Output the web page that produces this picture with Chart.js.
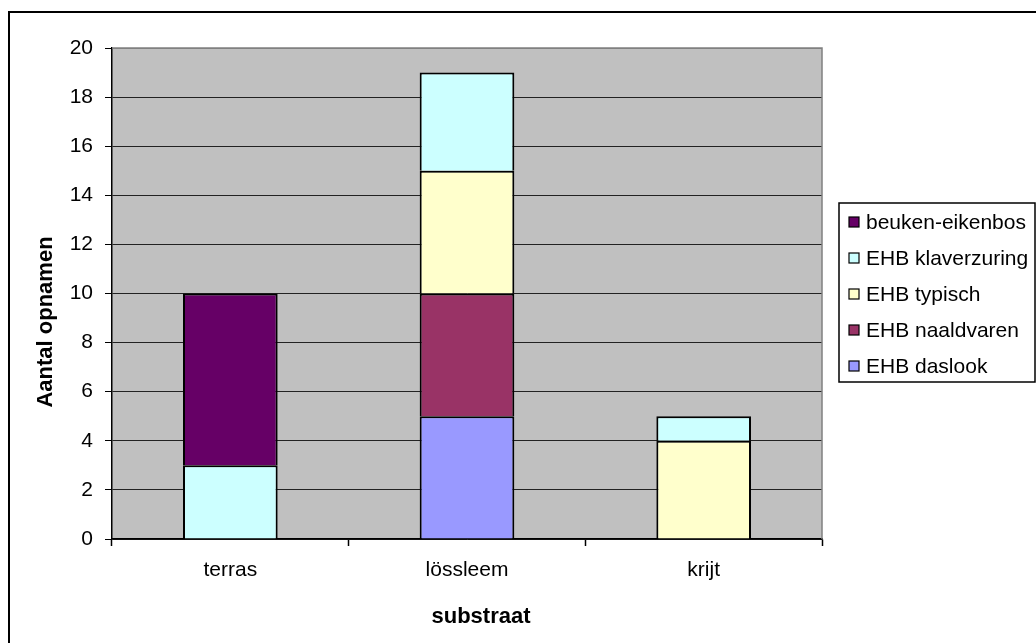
<!DOCTYPE html>
<html>
<head>
<meta charset="utf-8">
<script src="https://cdn.jsdelivr.net/npm/chart.js@4/dist/chart.umd.min.js"></script>
<style>
  html, body { margin: 0; padding: 0; background: #fff; }
  #wrap { width: 1036px; height: 643px; position: relative; }
</style>
</head>
<body>
<div id="wrap"><canvas id="c" width="1036" height="643"></canvas></div>
<script>
// Aantal opnamen per substraat en vegetatietype
const categories = ['terras', 'lössleem', 'krijt'];
const daslook      = [null, 5, null];
const naaldvaren   = [null, 5, null];
const typisch      = [null, 5, 4];
const klaverzuring = [3, 4, 1];
const beuken       = [7, null, null];

const seriesNames  = ['EHB daslook', 'EHB naaldvaren', 'EHB typisch', 'EHB klaverzuring', 'beuken-eikenbos'];
const seriesValues = [daslook, naaldvaren, typisch, klaverzuring, beuken];
const seriesColors = ['#9999FF', '#993366', '#FFFFCC', '#CCFFFF', '#660066'];

const yTitle = 'Aantal opnamen';
const xTitle = 'substraat';

const FONT = '"Liberation Sans", Arial, sans-serif';

const decorations = {
  id: 'decorations',
  beforeDraw(chart) {
    const { ctx, chartArea: a } = chart;
    ctx.save();
    // outer frame
    ctx.strokeStyle = '#000';
    ctx.lineWidth = 2;
    ctx.strokeRect(9, 12, 1100, 700);
    // plot background
    ctx.fillStyle = '#C0C0C0';
    ctx.fillRect(a.left, a.top, a.right - a.left, a.bottom - a.top);
    ctx.restore();
  },
  afterDraw(chart) {
    const { ctx, chartArea: a } = chart;
    ctx.save();
    // plot frame top / right
    ctx.strokeStyle = '#808080';
    ctx.lineWidth = 1.5;
    ctx.beginPath();
    ctx.moveTo(a.left, a.top);
    ctx.lineTo(a.right, a.top);
    ctx.lineTo(a.right, a.bottom);
    ctx.stroke();

    // axis titles
    ctx.fillStyle = '#000';
    ctx.font = 'bold 22px ' + FONT;
    ctx.textAlign = 'center';
    ctx.textBaseline = 'middle';
    ctx.fillText(xTitle, 481, 617);
    ctx.save();
    ctx.translate(46, 322);
    ctx.rotate(-Math.PI / 2);
    ctx.fillText(yTitle, 0, 0);
    ctx.restore();

    // legend
    const lx = 839, ly = 203, lw = 196, lh = 179;
    ctx.fillStyle = '#fff';
    ctx.fillRect(lx, ly, lw, lh);
    ctx.strokeStyle = '#000';
    ctx.lineWidth = 1.5;
    ctx.strokeRect(lx, ly, lw, lh);
    ctx.font = '21px ' + FONT;
    ctx.textAlign = 'left';
    ctx.textBaseline = 'middle';
    const ds = chart.data.datasets;
    for (let i = 0; i < ds.length; i++) {
      const d = ds[ds.length - 1 - i];
      const cy = 222 + i * 36;
      ctx.fillStyle = d.backgroundColor;
      ctx.fillRect(849, cy - 5, 10, 10);
      ctx.strokeStyle = '#000';
      ctx.lineWidth = 1.2;
      ctx.strokeRect(849, cy - 5, 10, 10);
      ctx.fillStyle = '#000';
      ctx.fillText(d.label, 866, cy + 1);
    }
    ctx.restore();
  }
};

new Chart(document.getElementById('c'), {
  type: 'bar',
  data: {
    labels: categories,
    datasets: seriesNames.map((name, i) => ({
      label: name,
      data: seriesValues[i],
      backgroundColor: seriesColors[i],
      borderColor: '#000',
      borderWidth: 2,
      barPercentage: 0.4,
      categoryPercentage: 1.0
    }))
  },
  options: {
    responsive: false,
    animation: false,
    devicePixelRatio: 1,
    layout: { padding: { top: 48, right: 214, bottom: 0, left: 0 } },
    plugins: { legend: { display: false }, tooltip: { enabled: false } },
    scales: {
      x: {
        stacked: true,
        afterFit(scale) { scale.height = 104; },
        grid: {
          offset: true,
          drawOnChartArea: false,
          drawTicks: true,
          tickLength: 7,
          tickColor: (c) => c.index === 3 ? '#808080' : '#000',
          tickWidth: 1.5
        },
        border: { color: '#000', width: 1.5 },
        ticks: { color: '#000', font: { family: FONT, size: 21 }, padding: 12 }
      },
      y: {
        stacked: true,
        min: 0,
        max: 20,
        afterFit(scale) { scale.width = 112; },
        grid: {
          color: (c) => (c.tick && c.tick.value === 20) ? '#808080' : '#222',
          lineWidth: 1,
          tickLength: 7,
          tickColor: '#000',
          tickWidth: 1
        },
        border: { color: '#000', width: 1.5 },
        ticks: { stepSize: 2, color: '#000', font: { family: FONT, size: 21 }, padding: 12 }
      }
    }
  },
  plugins: [decorations]
});
</script>
</body>
</html>
